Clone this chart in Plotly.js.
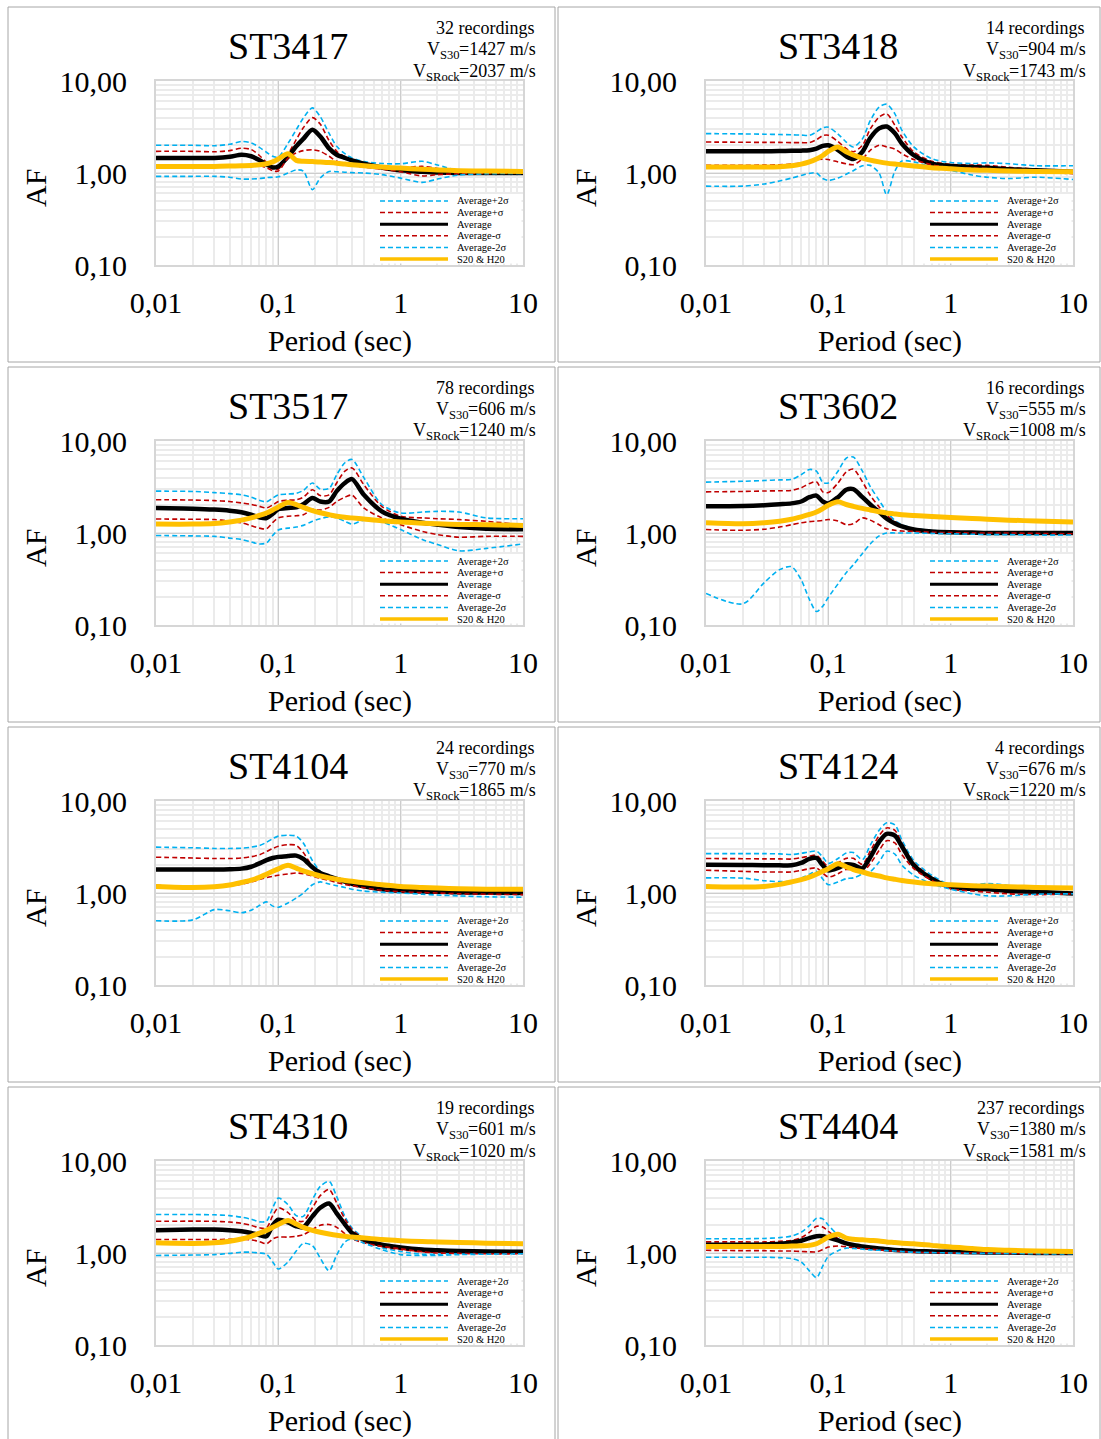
<!DOCTYPE html>
<html>
<head>
<meta charset="utf-8">
<script src="https://cdn.plot.ly/plotly-3.0.1.min.js"></script>
<style>html,body{margin:0;padding:0;background:#fff;}#chart{width:1101px;height:1439px;}</style>
</head>
<body>
<div id="chart"></div>
<script>
// ---------------- DATA ----------------
const stations = ['ST3417','ST3418','ST3517','ST3602','ST4104','ST4124','ST4310','ST4404'];
const recordings = [32, 14, 78, 16, 24, 4, 19, 237];
const vs30 = [1427, 904, 606, 555, 770, 676, 601, 1380];
const vsRock = [2037, 1743, 1240, 1008, 1865, 1220, 1020, 1581];

const period = [0.01,0.02,0.03,0.04,0.05,0.06,0.07,0.08,0.09,0.1,0.12,0.14,0.16,0.19,0.22,0.26,0.3,0.35,0.4,0.5,0.7,1,1.5,2,3,5,10];

const xTickVals = [0.01, 0.1, 1, 10];
const xTickText = ['0,01', '0,1', '1', '10'];
const yTickVals = [0.1, 1, 10];
const yTickText = ['0,10', '1,00', '10,00'];

const seriesNames = ['Average+2σ', 'Average+σ', 'Average', 'Average-σ', 'Average-2σ', 'S20 & H20'];

// one row per station, in the order of `stations`
const plus2sig = [
  [2.0,2.0,1.98,2.05,2.2,2.12,1.9,1.68,1.52,1.49,2.1,2.95,3.95,5.1,4.1,2.7,1.95,1.62,1.46,1.33,1.27,1.26,1.34,1.22,1.06,1.0,0.98],
  [2.68,2.66,2.64,2.62,2.6,2.58,2.57,2.8,3.1,3.15,2.65,2.17,1.92,2.35,3.7,5.2,5.6,4.4,2.9,1.92,1.43,1.3,1.27,1.29,1.26,1.2,1.2],
  [2.85,2.83,2.75,2.68,2.6,2.45,2.27,2.18,2.4,2.6,2.65,2.7,2.9,3.5,3.0,3.05,4.3,5.8,6.3,4.0,2.04,1.65,1.69,1.72,1.69,1.46,1.43],
  [3.57,3.65,3.72,3.78,3.82,4.3,4.9,4.7,3.55,3.5,4.7,6.5,6.7,4.7,3.2,2.27,1.7,1.37,1.23,1.12,1.07,1.03,1.0,1.0,0.99,0.98,0.98],
  [3.15,3.1,3.05,3.05,3.07,3.15,3.28,3.55,3.9,4.15,4.25,4.15,3.5,2.25,1.72,1.46,1.36,1.29,1.23,1.16,1.08,1.04,1.02,1.0,0.98,0.97,0.96],
  [2.68,2.68,2.68,2.66,2.62,2.7,2.8,2.85,2.46,2.1,2.37,2.72,2.75,2.3,3.3,4.8,5.8,5.5,3.75,2.25,1.56,1.22,1.22,1.27,1.2,1.04,0.98],
  [2.62,2.62,2.6,2.55,2.45,2.33,2.18,2.22,3.1,3.95,3.35,2.55,2.5,3.8,5.3,6.0,4.1,2.5,1.87,1.46,1.15,1.04,0.97,0.97,0.99,1.0,1.0],
  [1.43,1.43,1.44,1.47,1.53,1.68,1.98,2.38,2.35,2.0,1.56,1.26,1.17,1.12,1.1,1.08,1.06,1.05,1.04,1.02,1.01,1.0,1.0,0.99,0.99,0.99,0.99]
];
const plus1sig = [
  [1.72,1.72,1.7,1.75,1.86,1.8,1.55,1.3,1.12,1.1,1.6,2.3,3.1,4.0,3.4,2.25,1.72,1.5,1.38,1.26,1.18,1.14,1.18,1.12,1.04,1.0,0.98],
  [2.17,2.16,2.15,2.15,2.14,2.14,2.14,2.3,2.55,2.57,2.2,1.84,1.7,2.0,3.0,4.05,4.4,3.3,2.46,1.69,1.34,1.24,1.22,1.21,1.15,1.1,0.99],
  [2.3,2.28,2.25,2.2,2.12,2.05,1.95,1.87,2.02,2.2,2.27,2.3,2.45,2.95,2.55,2.6,3.5,4.7,5.1,3.35,1.95,1.52,1.46,1.43,1.4,1.34,1.23],
  [2.8,2.83,2.86,2.88,2.9,3.1,3.45,3.6,2.8,2.75,3.5,4.6,4.95,3.6,2.57,1.92,1.56,1.33,1.21,1.12,1.06,1.03,1.01,1.0,1.0,1.0,1.0],
  [2.45,2.4,2.37,2.37,2.4,2.48,2.6,2.82,3.05,3.22,3.35,3.3,2.75,1.95,1.65,1.48,1.38,1.3,1.25,1.18,1.1,1.05,1.03,1.02,1.01,1.0,1.0],
  [2.37,2.36,2.35,2.35,2.34,2.42,2.52,2.57,2.2,1.94,2.14,2.38,2.38,2.05,2.85,4.2,5.1,4.8,3.45,2.12,1.49,1.18,1.16,1.16,1.1,1.01,0.99],
  [2.21,2.22,2.21,2.17,2.1,2.0,1.88,1.87,2.55,3.1,2.75,2.25,2.22,3.1,4.2,4.9,3.5,2.35,1.8,1.42,1.18,1.09,1.03,1.02,1.02,1.02,1.02],
  [1.32,1.32,1.32,1.34,1.37,1.47,1.68,1.95,1.92,1.72,1.43,1.24,1.18,1.14,1.12,1.1,1.08,1.06,1.05,1.04,1.02,1.01,1.0,1.0,1.0,1.0,1.0]
];
const average = [
  [1.46,1.46,1.46,1.5,1.58,1.52,1.38,1.24,1.15,1.18,1.5,1.95,2.35,2.95,2.5,1.85,1.58,1.46,1.37,1.26,1.15,1.07,1.03,1.01,1.0,1.0,1.0],
  [1.72,1.72,1.72,1.73,1.74,1.75,1.77,1.84,1.97,2.0,1.78,1.52,1.42,1.7,2.4,3.05,3.2,2.7,2.08,1.56,1.26,1.19,1.16,1.14,1.1,1.07,1.03],
  [1.87,1.84,1.8,1.75,1.68,1.58,1.48,1.45,1.62,1.82,1.87,1.9,2.05,2.4,2.2,2.2,2.85,3.5,3.85,2.6,1.72,1.43,1.29,1.23,1.16,1.11,1.1],
  [1.95,1.96,2.0,2.05,2.1,2.2,2.45,2.55,2.2,2.1,2.45,2.95,3.0,2.45,2.04,1.69,1.43,1.27,1.18,1.09,1.04,1.02,1.01,1.0,1.0,1.0,1.0],
  [1.8,1.8,1.8,1.81,1.84,1.93,2.1,2.28,2.4,2.47,2.52,2.55,2.35,1.9,1.65,1.52,1.42,1.33,1.26,1.18,1.1,1.06,1.04,1.03,1.02,1.01,1.0],
  [2.03,2.02,2.0,2.0,2.0,2.12,2.35,2.4,2.0,1.76,1.87,2.05,2.02,1.85,2.45,3.6,4.4,4.2,3.2,2.0,1.43,1.16,1.11,1.1,1.05,1.03,0.99],
  [1.77,1.8,1.8,1.77,1.72,1.65,1.57,1.52,2.0,2.3,2.15,1.95,1.9,2.5,3.1,3.45,2.7,2.05,1.65,1.4,1.23,1.15,1.09,1.07,1.05,1.04,1.03],
  [1.23,1.23,1.24,1.26,1.3,1.36,1.45,1.52,1.52,1.47,1.37,1.27,1.22,1.18,1.15,1.12,1.1,1.08,1.07,1.05,1.04,1.03,1.02,1.01,1.01,1.0,1.0]
];
const minus1sig = [
  [1.21,1.21,1.21,1.22,1.23,1.22,1.2,1.14,1.06,1.05,1.45,1.65,1.75,1.79,1.72,1.52,1.34,1.26,1.2,1.16,1.1,1.03,0.93,0.96,0.98,0.99,1.0],
  [1.21,1.21,1.22,1.23,1.25,1.28,1.34,1.4,1.41,1.4,1.32,1.26,1.23,1.42,1.76,2.0,1.92,1.82,1.62,1.4,1.23,1.14,1.13,1.12,1.07,1.04,0.98],
  [1.42,1.41,1.4,1.35,1.29,1.2,1.13,1.11,1.3,1.46,1.52,1.54,1.58,1.8,1.78,1.9,2.2,2.45,2.58,1.87,1.46,1.23,1.04,0.96,0.9,0.92,0.92],
  [1.09,1.07,1.1,1.16,1.23,1.29,1.33,1.35,1.37,1.4,1.35,1.23,1.26,1.46,1.38,1.23,1.11,1.07,1.05,1.04,1.02,1.01,1.0,1.0,1.0,0.99,0.98],
  [1.21,1.16,1.17,1.2,1.25,1.32,1.4,1.47,1.52,1.56,1.61,1.65,1.62,1.53,1.44,1.37,1.3,1.24,1.2,1.14,1.07,1.03,1.01,1.0,0.98,0.97,0.96],
  [1.77,1.72,1.69,1.69,1.69,1.76,1.84,1.87,1.65,1.49,1.62,1.8,1.78,1.7,2.08,2.9,3.7,3.5,2.6,1.84,1.37,1.11,1.05,1.02,0.98,0.96,0.98],
  [1.4,1.4,1.4,1.41,1.42,1.39,1.33,1.26,1.42,1.49,1.49,1.52,1.58,1.8,2.0,2.04,1.9,1.62,1.43,1.29,1.18,1.11,1.03,1.0,0.99,0.98,0.98],
  [1.07,1.06,1.06,1.05,1.05,1.04,1.03,1.03,1.09,1.16,1.19,1.17,1.14,1.12,1.1,1.08,1.06,1.05,1.04,1.02,1.01,1.0,1.0,1.0,0.99,0.99,0.99]
];
const minus2sig = [
  [0.92,0.92,0.92,0.9,0.86,0.86,0.87,0.89,0.9,0.91,1.0,1.08,1.05,0.66,0.88,1.04,1.03,1.02,1.01,1.0,0.96,0.88,0.79,0.86,0.95,0.98,0.99],
  [0.72,0.72,0.76,0.82,0.88,0.94,0.99,1.0,0.87,0.83,0.88,0.97,1.06,1.2,1.21,1.0,0.58,1.05,1.35,1.32,1.16,1.07,0.95,0.9,0.87,0.9,0.85],
  [0.94,0.93,0.92,0.88,0.85,0.8,0.76,0.78,0.94,1.08,1.13,1.16,1.21,1.34,1.43,1.5,1.46,1.34,1.25,1.38,1.32,1.09,0.85,0.75,0.64,0.68,0.76],
  [0.22,0.17,0.29,0.4,0.43,0.31,0.19,0.14,0.16,0.2,0.28,0.37,0.45,0.6,0.76,0.93,1.0,1.0,1.0,1.0,0.99,0.98,0.97,0.96,0.96,0.95,0.95],
  [0.5,0.51,0.66,0.64,0.61,0.65,0.73,0.8,0.72,0.7,0.78,0.88,1.0,1.23,1.32,1.25,1.2,1.15,1.1,1.05,1.02,1.0,0.97,0.95,0.93,0.91,0.9],
  [1.46,1.45,1.36,1.33,1.34,1.45,1.6,1.72,1.42,1.23,1.32,1.43,1.46,1.6,1.7,2.17,2.85,2.65,2.0,1.56,1.26,1.1,0.98,0.93,0.93,0.97,0.98],
  [0.94,0.95,0.96,0.99,1.02,1.02,1.0,0.97,0.8,0.67,0.8,1.05,1.27,1.2,0.88,0.64,0.95,1.32,1.42,1.28,1.09,0.96,0.94,0.94,0.96,0.97,0.98],
  [0.9,0.9,0.9,0.89,0.87,0.8,0.64,0.54,0.72,0.92,1.06,1.13,1.12,1.1,1.08,1.07,1.06,1.05,1.04,1.02,1.01,1.0,0.99,0.99,0.99,0.98,0.98]
];
const s20h20 = [
  [1.18,1.18,1.18,1.19,1.2,1.21,1.23,1.26,1.32,1.42,1.62,1.37,1.34,1.33,1.32,1.3,1.28,1.25,1.23,1.2,1.16,1.13,1.1,1.08,1.06,1.05,1.04],
  [1.16,1.16,1.16,1.17,1.2,1.25,1.32,1.42,1.55,1.72,1.92,1.7,1.57,1.45,1.38,1.32,1.28,1.25,1.23,1.19,1.14,1.11,1.08,1.07,1.05,1.04,1.03],
  [1.25,1.25,1.27,1.32,1.38,1.46,1.55,1.65,1.78,1.92,2.15,2.04,1.9,1.75,1.66,1.58,1.52,1.48,1.46,1.42,1.36,1.32,1.28,1.26,1.24,1.23,1.21],
  [1.29,1.26,1.29,1.34,1.41,1.5,1.59,1.69,1.84,2.0,2.18,2.04,1.95,1.85,1.78,1.7,1.65,1.61,1.58,1.55,1.51,1.47,1.44,1.41,1.38,1.35,1.32],
  [1.18,1.15,1.17,1.22,1.3,1.38,1.48,1.6,1.72,1.83,2.0,1.86,1.74,1.62,1.53,1.46,1.41,1.37,1.34,1.29,1.23,1.18,1.15,1.13,1.11,1.1,1.1],
  [1.18,1.16,1.18,1.24,1.32,1.4,1.49,1.6,1.72,1.84,2.08,1.93,1.8,1.69,1.6,1.53,1.46,1.41,1.37,1.32,1.26,1.23,1.2,1.19,1.17,1.15,1.13],
  [1.29,1.27,1.29,1.34,1.42,1.52,1.64,1.76,1.9,2.04,2.25,2.07,1.9,1.76,1.68,1.61,1.56,1.52,1.49,1.46,1.4,1.36,1.33,1.32,1.3,1.28,1.26],
  [1.18,1.18,1.18,1.18,1.19,1.2,1.21,1.26,1.37,1.49,1.6,1.45,1.41,1.39,1.37,1.35,1.32,1.3,1.28,1.26,1.21,1.16,1.12,1.09,1.07,1.05,1.04]
];

// ---------------- STYLE / LAYOUT ----------------
const seriesData = [plus2sig, plus1sig, average, minus1sig, minus2sig, s20h20];
const BLUE = '#00b0f0', RED = '#c00000', BLACK = '#000000', GOLD = '#ffc000';
const seriesLine = [
  {color: BLUE, width: 1.6, dash: '5px,3px'},
  {color: RED, width: 1.6, dash: '5px,3px'},
  {color: BLACK, width: 4.5, dash: 'solid'},
  {color: RED, width: 1.6, dash: '5px,3px'},
  {color: BLUE, width: 1.6, dash: '5px,3px'},
  {color: GOLD, width: 5, dash: 'solid'}
];
const FONTNAME = 'Liberation Serif';
const SERIF = '"Liberation Serif", "Times New Roman", Times, serif';
const W = 1101, H = 1439;
const fx = v => v / W;
const fy = v => 1 - v / H;

// text width measurement (for composing subscripts from separate text pieces)
const mctx = document.createElement('canvas').getContext('2d');
function textWidth(t, size) {
  mctx.font = size + 'px "' + FONTNAME + '"';
  return mctx.measureText(t).width;
}

const traces = [];
const layout = {
  width: W, height: H,
  margin: {l: 0, r: 0, t: 0, b: 0},
  paper_bgcolor: '#ffffff', plot_bgcolor: '#ffffff',
  showlegend: false,
  font: {family: SERIF, color: '#000'},
  shapes: [], annotations: []
};

function addText(x, y, text, size, anchor, extra) {
  layout.annotations.push(Object.assign({
    xref: 'paper', yref: 'paper', x: fx(x), y: fy(y),
    xanchor: anchor || 'center', yanchor: 'middle', showarrow: false, text: text,
    borderpad: 0, font: {size: size, family: SERIF, color: '#000'}
  }, extra || {}));
}

stations.forEach((st, i) => {
  const col = i % 2, row = Math.floor(i / 2);
  const k = i === 0 ? '' : String(i + 1);
  const L = col ? 706 : 156, R = col ? 1073 : 523;
  const T = 81 + 360 * row, B = 265 + 360 * row;

  const axisCommon = {
    type: 'log', tickmode: 'array', ticks: '',
    tickfont: {size: 30, family: SERIF, color: '#000'},
    showgrid: true, gridcolor: '#cdcdcd', gridwidth: 1,
    minor: {dtick: 'D1', showgrid: true, gridcolor: '#ebebeb', gridwidth: 2, ticks: ''},
    showline: true, linecolor: '#d6d6d6', linewidth: 2, mirror: true, zeroline: false, fixedrange: true
  };
  layout['xaxis' + k] = Object.assign({}, axisCommon, {
    domain: [fx(L), fx(R)], anchor: 'y' + k, range: [-2, 1],
    tickvals: xTickVals, ticktext: xTickText, ticklabelstandoff: 10
  });
  layout['yaxis' + k] = Object.assign({}, axisCommon, {
    domain: [fy(B), fy(T)], anchor: 'x' + k, range: [-1, 1],
    tickvals: yTickVals, ticktext: yTickText, ticklabelstandoff: 21
  });

  seriesData.forEach((arr, s) => {
    traces.push({
      type: 'scatter', mode: 'lines', x: period, y: arr[i],
      xaxis: 'x' + k, yaxis: 'y' + k, name: seriesNames[s],
      line: Object.assign({shape: 'spline', smoothing: 0.8}, seriesLine[s]),
      hoverinfo: 'skip'
    });
  });

  // panel frame
  const PX0 = col ? 558 : 8, PX1 = col ? 1100 : 555;
  const PY0 = 7 + 360 * row, PY1 = 362 + 360 * row;
  layout.shapes.push({type: 'rect', xref: 'paper', yref: 'paper',
    x0: fx(PX0), x1: fx(PX1), y0: fy(PY0), y1: fy(PY1),
    line: {color: '#a6a6a6', width: 1}, fillcolor: 'rgba(0,0,0,0)', layer: 'below'});

  // legend box (drawn over the plot, bottom-right)
  layout.shapes.push({type: 'rect', xref: 'paper', yref: 'paper',
    x0: fx(L + 209), x1: fx(R - 1.5), y0: fy(T + 113), y1: fy(B - 1.5),
    line: {width: 0}, fillcolor: '#ffffff', layer: 'above'});
  seriesNames.forEach((nm, s) => {
    const yy = T + 120 + s * 11.6;
    const ln = seriesLine[s];
    layout.shapes.push({type: 'line', xref: 'paper', yref: 'paper',
      x0: fx(L + 224), x1: fx(L + 292), y0: fy(yy), y1: fy(yy),
      line: {color: ln.color, width: s === 2 ? 3 : (s === 5 ? 3.5 : 1.5), dash: ln.dash}, layer: 'above'});
    addText(L + 300, yy, nm, 10.5, 'left');
  });

  // station title
  const cx = (L + R) / 2;
  addText(cx - 52, 46 + 360 * row, st, 38, 'center');

  // info lines (right aligned), subscripts composed from separate pieces
  const rx = col ? 1085 : 535;
  addText(rx, 28 + 360 * row, recordings[i] + ' recordings', 18, 'right');
  const subLines = [
    {y: 49 + 360 * row, main: 'V', sub: 'S30', rest: '=' + vs30[i] + ' m/s'},
    {y: 70.5 + 360 * row, main: 'V', sub: 'SRock', rest: '=' + vsRock[i] + ' m/s'}
  ];
  subLines.forEach(ln => {
    const wRest = textWidth(ln.rest, 18), wSub = textWidth(ln.sub, 12.6), wMain = textWidth(ln.main, 18);
    const xRest = rx - wRest, xSub = xRest - wSub, xMain = xSub - wMain;
    addText(xMain, ln.y, ln.main, 18, 'left');
    addText(xSub, ln.y + 6, ln.sub, 12.6, 'left');
    addText(xRest, ln.y, ln.rest, 18, 'left');
  });

  // axis titles
  addText(col ? 585 : 35, 188 + 360 * row, 'AF', 30, 'center', {textangle: -90});
  addText(cx, 341 + 360 * row, 'Period (sec)', 30, 'center');
});

Plotly.newPlot('chart', traces, layout, {staticPlot: true, displayModeBar: false});
</script>
</body>
</html>
